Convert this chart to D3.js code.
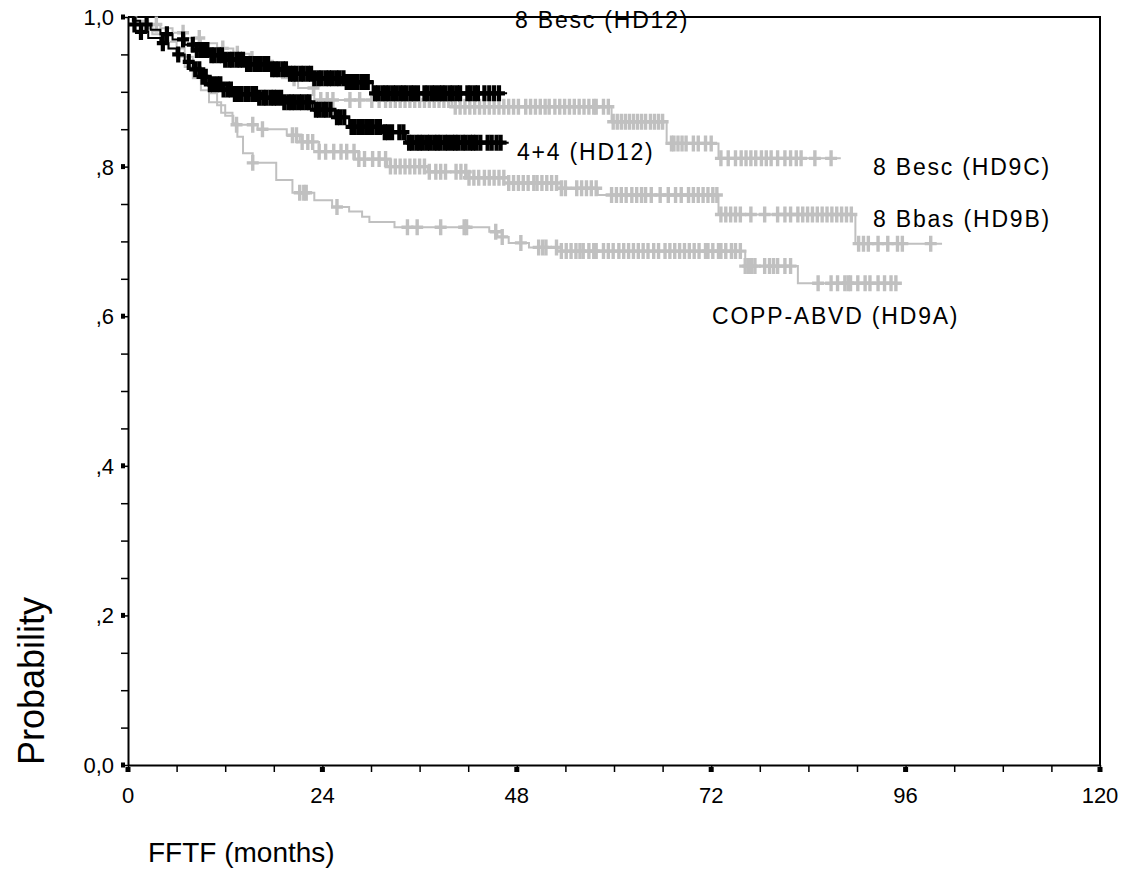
<!DOCTYPE html>
<html>
<head>
<meta charset="utf-8">
<script src="https://cdn.jsdelivr.net/npm/d3@7"></script>
<style>
  body { margin: 0; background: #fff; }
  text { font-family: "Liberation Sans", Arial, sans-serif; fill: #000; }
</style>
</head>
<body>
<div id="container"></div>
<script>
/* DATA */
// 8 Besc (HD12) - black
const hd12BescTimes = [0, 0.6, 1.5, 2.8, 4.0, 5.5, 7.0, 8.5, 10.0, 12.0, 14.5, 17.5, 20.0, 23.0, 27.0, 30.2];
const hd12BescSurv  = [1.0, 0.995, 0.99, 0.983, 0.977, 0.97, 0.963, 0.956, 0.949, 0.943, 0.937, 0.93, 0.924, 0.918, 0.913, 0.898];
const hd12BescCens  = [2.3, 4.8, 6.8, 8.0, 8.5, 9.0, 9.4, 9.8, 10.3, 10.7, 11.2, 11.6, 12.0, 12.5, 12.9, 13.4, 13.8, 14.2, 14.7, 15.1,
  15.6, 16.0, 16.4, 16.9, 17.3, 17.8, 18.2, 18.6, 19.1, 19.5, 20.0, 20.4, 20.8, 21.3, 21.7, 22.2, 22.6, 23.0, 23.5, 23.9,
  24.4, 24.8, 25.2, 25.7, 26.1, 26.6, 27.0, 27.4, 27.9, 28.3, 28.8, 29.2, 29.6, 30.5, 30.9, 31.4, 31.8, 32.2, 32.7, 33.1,
  33.6, 34.0, 34.4, 34.9, 35.3, 35.8, 36.6, 37.0, 37.5, 37.9, 38.4, 38.8, 39.2, 39.7, 40.1, 40.6, 41.0, 41.9, 42.3, 42.8,
  43.2, 44.0, 44.6, 45.2, 45.8];
const hd12BescEnd = 46.8;

// 4+4 (HD12) - black
const hd12FourTimes = [0, 0.7, 1.5, 2.5, 4.0, 5.0, 6.0, 7.0, 8.0, 9.0, 10.0, 11.5, 13.0, 16.0, 19.0, 22.8, 25.5, 27.3, 31.4, 34.3];
const hd12FourSurv  = [1.0, 0.99, 0.98, 0.972, 0.965, 0.958, 0.95, 0.94, 0.93, 0.92, 0.91, 0.903, 0.897, 0.892, 0.886, 0.876, 0.866, 0.853, 0.846, 0.832];
const hd12FourCens  = [0.8, 1.6, 4.3, 6.2, 7.5, 8.3, 8.8, 9.2, 9.6, 10.1, 10.5, 11.0, 11.4, 11.8, 12.3, 12.7, 13.2, 13.6, 14.0, 14.5,
  14.9, 15.4, 15.8, 16.2, 16.7, 17.1, 17.6, 18.0, 18.4, 18.9, 19.3, 19.8, 20.2, 20.6, 21.1, 21.5, 22.0, 22.4, 23.2, 23.6,
  24.1, 24.5, 25.0, 25.8, 26.2, 26.7, 27.6, 28.0, 28.5, 28.9, 29.4, 29.8, 30.2, 30.7, 31.1, 31.7, 32.1, 32.6, 33.5, 34.0,
  34.7, 35.1, 35.6, 36.0, 36.4, 36.9, 37.3, 37.8, 38.2, 38.6, 39.1, 39.5, 40.0, 40.4, 40.8, 41.3, 41.7, 42.2, 42.6, 43.0,
  43.5, 44.4, 44.9, 45.5, 46.0];
const hd12FourEnd = 47.0;

// 8 Besc (HD9C) - grey
const hd9cTimes = [0, 1, 2.5, 4, 5.5, 7, 9, 11, 13, 15, 17, 19, 21, 23, 40, 59.7, 66.5, 72.9];
const hd9cSurv  = [1, 0.995, 0.99, 0.985, 0.979, 0.972, 0.965, 0.958, 0.951, 0.944, 0.932, 0.918, 0.905, 0.889, 0.88, 0.86, 0.831, 0.811];
const hd9cCens  = [3.5, 6.8, 8.8, 11.7, 13.5, 15.3, 17.8, 20.5, 22.9, 23.8, 24.6, 25.3, 27.4, 28.6, 30.1, 31.0, 31.8, 32.4, 33.0, 33.6,
  34.2, 34.8, 35.4, 36.0, 36.6, 37.2, 37.8, 38.4, 39.0, 39.6, 40.4, 41.0, 41.6, 42.2, 42.8, 43.4, 44.0, 44.6, 45.2, 45.8,
  46.4, 47.0, 47.6, 48.2, 49.1, 49.7, 50.3, 50.9, 51.5, 52.0, 52.7, 53.3, 53.9, 54.5, 55.1, 55.7, 56.3, 56.9, 57.5, 57.8,
  58.7, 59.3, 59.9, 60.4, 60.9, 61.4, 61.9, 62.4, 62.9, 63.4, 63.9, 64.5, 65.0, 65.5, 66.0, 67.1, 67.4, 67.9, 68.4, 68.9,
  69.8, 70.4, 71.3, 72.0, 73.2, 74.1, 75.0, 75.7, 76.3, 76.9, 77.5, 78.2, 78.8, 79.4, 80.2, 81.1, 81.8, 82.5, 83.1, 84.8, 86.8];
const hd9cEnd = 88.0;

// 8 Bbas (HD9B) - grey
const hd9bTimes = [0, 1, 2, 3, 4, 5, 6, 7, 8, 9, 10, 11, 12, 13, 16, 19.6, 21.2, 23.6, 28, 32, 37, 42, 47, 53, 58, 72.9, 89.8];
const hd9bSurv  = [1, 0.993, 0.987, 0.981, 0.975, 0.967, 0.958, 0.947, 0.933, 0.915, 0.898, 0.882, 0.868, 0.856, 0.85, 0.842, 0.833,
  0.82, 0.81, 0.80, 0.793, 0.785, 0.778, 0.771, 0.762, 0.736, 0.697];
const hd9bCens  = [13.4, 15.4, 16.6, 20.3, 20.8, 21.5, 22.2, 22.8, 23.6, 24.4, 25.4, 26.3, 27.0, 27.9, 28.5, 29.2, 30.2, 31.0, 31.8, 32.4,
  33.0, 33.6, 34.2, 34.8, 35.4, 36.0, 36.6, 37.2, 38.0, 38.6, 39.2, 40.5, 41.1, 41.7, 42.1, 42.7, 43.3, 44.0, 44.6, 45.2,
  45.8, 46.4, 47.0, 47.6, 48.2, 48.8, 49.4, 50.1, 50.5, 51.1, 51.7, 52.3, 52.9, 53.5, 54.0, 55.4, 56.0, 56.6, 57.2, 57.8,
  59.7, 60.3, 60.9, 61.5, 62.2, 62.8, 63.4, 63.9, 64.6, 65.7, 66.7, 67.6, 68.3, 69.2, 69.8, 70.4, 71.0, 71.6, 72.2, 72.7,
  73.2, 73.8, 74.4, 75.0, 75.6, 76.9, 78.6, 80.2, 81.1, 81.8, 82.7, 83.3, 83.9, 84.5, 85.1, 85.7, 86.3, 86.9, 87.5, 88.1,
  88.7, 89.3, 90.2, 90.8, 91.4, 92.6, 93.8, 95.0, 95.6, 99.1];
const hd9bEnd = 100.5;

// COPP-ABVD (HD9A) - grey
const hd9aTimes = [0, 1, 2, 3, 4, 5, 6, 7, 8, 9, 10, 11.5, 12.9, 13.5, 14.2, 15.4, 18.3, 20.3, 23, 25.2, 27.3, 28.9, 29.8, 32.9,
  44.6, 45.6, 47, 49.5, 53, 76.2, 82.7];
const hd9aSurv  = [1, 0.992, 0.985, 0.977, 0.968, 0.958, 0.947, 0.933, 0.918, 0.902, 0.886, 0.872, 0.858, 0.84, 0.818, 0.805, 0.782,
  0.765, 0.755, 0.746, 0.74, 0.733, 0.726, 0.719, 0.713, 0.706, 0.698, 0.692, 0.687, 0.667, 0.644];
const hd9aCens  = [15.4, 21.2, 21.7, 22.0, 25.8, 34.5, 35.7, 38.6, 41.5, 41.8, 45.4, 46.2, 48.5, 50.7, 51.2, 51.6, 52.9, 53.5, 54.1, 54.7,
  55.3, 55.8, 56.2, 56.9, 57.5, 57.8, 58.7, 59.3, 59.9, 60.6, 61.2, 61.8, 62.4, 63.0, 63.6, 64.2, 64.9, 65.5, 66.3, 66.9,
  67.5, 68.1, 68.7, 69.3, 69.9, 70.5, 71.3, 71.6, 72.2, 72.9, 73.2, 73.8, 74.5, 75.0, 75.6, 76.2, 76.6, 77.0, 77.4, 78.6,
  79.2, 79.7, 80.2, 81.1, 81.8, 85.2, 86.8, 87.6, 88.5, 88.9, 89.2, 90.1, 91.0, 91.6, 92.6, 93.4, 94.2, 94.8];
const hd9aEnd = 95.4;

// axis ticks
const xTickValues = [0, 24, 48, 72, 96, 120];
const xMinorTicks = [6, 12, 18, 30, 36, 42, 54, 60, 66, 78, 84, 90, 102, 108, 114];
const yTickValues = [0, 0.2, 0.4, 0.6, 0.8, 1.0];
const yTickLabels = ["0,0", ",2", ",4", ",6", ",8", "1,0"];
const yMinorTicks = [0.05, 0.1, 0.15, 0.25, 0.3, 0.35, 0.45, 0.5, 0.55, 0.65, 0.7, 0.75, 0.85, 0.9, 0.95];

/* LAYOUT */
const W = 1126, H = 894;
const margin = {top: 17, right: 26, bottom: 129, left: 128};
const grey = "#c0c0c0";

const series = [
  {label: "8 Besc (HD9C)",    times: hd9cTimes, surv: hd9cSurv, cens: hd9cCens, end: hd9cEnd, color: grey, lx: 873, ly: 175},
  {label: "8 Bbas (HD9B)",    times: hd9bTimes, surv: hd9bSurv, cens: hd9bCens, end: hd9bEnd, color: grey, lx: 873, ly: 227},
  {label: "COPP-ABVD (HD9A)", times: hd9aTimes, surv: hd9aSurv, cens: hd9aCens, end: hd9aEnd, color: grey, lx: 712, ly: 324},
  {label: "4+4 (HD12)",       times: hd12FourTimes, surv: hd12FourSurv, cens: hd12FourCens, end: hd12FourEnd, color: "#000", lx: 517, ly: 160},
  {label: "8 Besc (HD12)",    times: hd12BescTimes, surv: hd12BescSurv, cens: hd12BescCens, end: hd12BescEnd, color: "#000", lx: 515, ly: 28}
];

const svg = d3.select("#container").append("svg")
  .attr("width", W)
  .attr("height", H);

/* SCALES */
const x = d3.scaleLinear().domain([0, 120]).range([margin.left, W - margin.right]);
const y = d3.scaleLinear().domain([0, 1]).range([H - margin.bottom, margin.top]);

// frame (top + right)
svg.append("path")
  .attr("d", `M${x(0)},${y(1)}H${x(120)}V${y(0)}`)
  .attr("fill", "none").attr("stroke", "#000").attr("stroke-width", 2);

/* CURVES */
const stepLine = d3.line()
  .x(d => x(d[0]))
  .y(d => y(d[1]))
  .curve(d3.curveStepAfter);

function survAt(s, t) {
  const i = d3.bisectRight(s.times, t) - 1;
  return s.surv[Math.max(0, i)];
}

series.forEach(s => {
  const pts = s.times.map((t, i) => [t, s.surv[i]]);
  pts.push([s.end, s.surv[s.surv.length - 1]]);
  const g = svg.append("g");
  g.append("path")
    .attr("d", stepLine(pts))
    .attr("fill", "none")
    .attr("stroke", s.color)
    .attr("stroke-width", 2);
  // censor marks "+"
  g.selectAll("path.cens")
    .data(s.cens)
    .join("path")
    .attr("class", "cens")
    .attr("d", t => {
      const cx = x(t), cy = y(survAt(s, t));
      return `M${cx},${cy - 8}V${cy + 8}M${cx - 6},${cy}H${cx + 6}`;
    })
    .attr("stroke", s.color)
    .attr("stroke-width", s.color === grey ? 3.4 : 4.2)
    .attr("fill", "none");
});

/* AXES */
const yAxis = svg.append("g")
  .attr("transform", `translate(${x(0)},0)`)
  .call(d3.axisLeft(y).tickValues(yMinorTicks.concat(yTickValues)).tickSize(7).tickSizeOuter(0).tickFormat(""));
const xAxis = svg.append("g")
  .attr("transform", `translate(0,${y(0)})`)
  .call(d3.axisBottom(x).tickValues(xMinorTicks.concat(xTickValues)).tickSize(7).tickSizeOuter(0).tickFormat(""));
[yAxis, xAxis].forEach(a => {
  a.select(".domain").attr("stroke-width", 2);
  a.selectAll(".tick line").attr("stroke-width", 1.5);
});

// major tick dots
svg.selectAll("rect.ydot").data(yTickValues).join("rect")
  .attr("x", x(0) - 7).attr("y", d => y(d) - 2.5).attr("width", 4).attr("height", 5).attr("fill", "#000");
svg.selectAll("rect.xdot").data(xTickValues).join("rect")
  .attr("x", d => x(d) - 2.5).attr("y", y(0) + 2).attr("width", 5).attr("height", 5).attr("fill", "#000");

// tick labels
svg.selectAll("text.ylab").data(yTickValues).join("text")
  .attr("x", x(0) - 14).attr("y", d => y(d) + 8)
  .attr("text-anchor", "end").attr("font-size", 22)
  .text((d, i) => yTickLabels[i]);
svg.selectAll("text.xlab").data(xTickValues).join("text")
  .attr("x", d => x(d)).attr("y", y(0) + 38)
  .attr("text-anchor", "middle").attr("font-size", 22)
  .text(d => d);

// axis titles
svg.append("text")
  .attr("transform", `translate(44,${y(0)}) rotate(-90)`)
  .attr("font-size", 36)
  .text("Probability");
svg.append("text")
  .attr("x", 148).attr("y", 862)
  .attr("font-size", 28)
  .text("FFTF (months)");

// series labels
svg.selectAll("text.slab").data(series).join("text")
  .attr("x", d => d.lx).attr("y", d => d.ly)
  .attr("font-size", 23)
  .attr("letter-spacing", 1.8)
  .text(d => d.label);
</script>
</body>
</html>
